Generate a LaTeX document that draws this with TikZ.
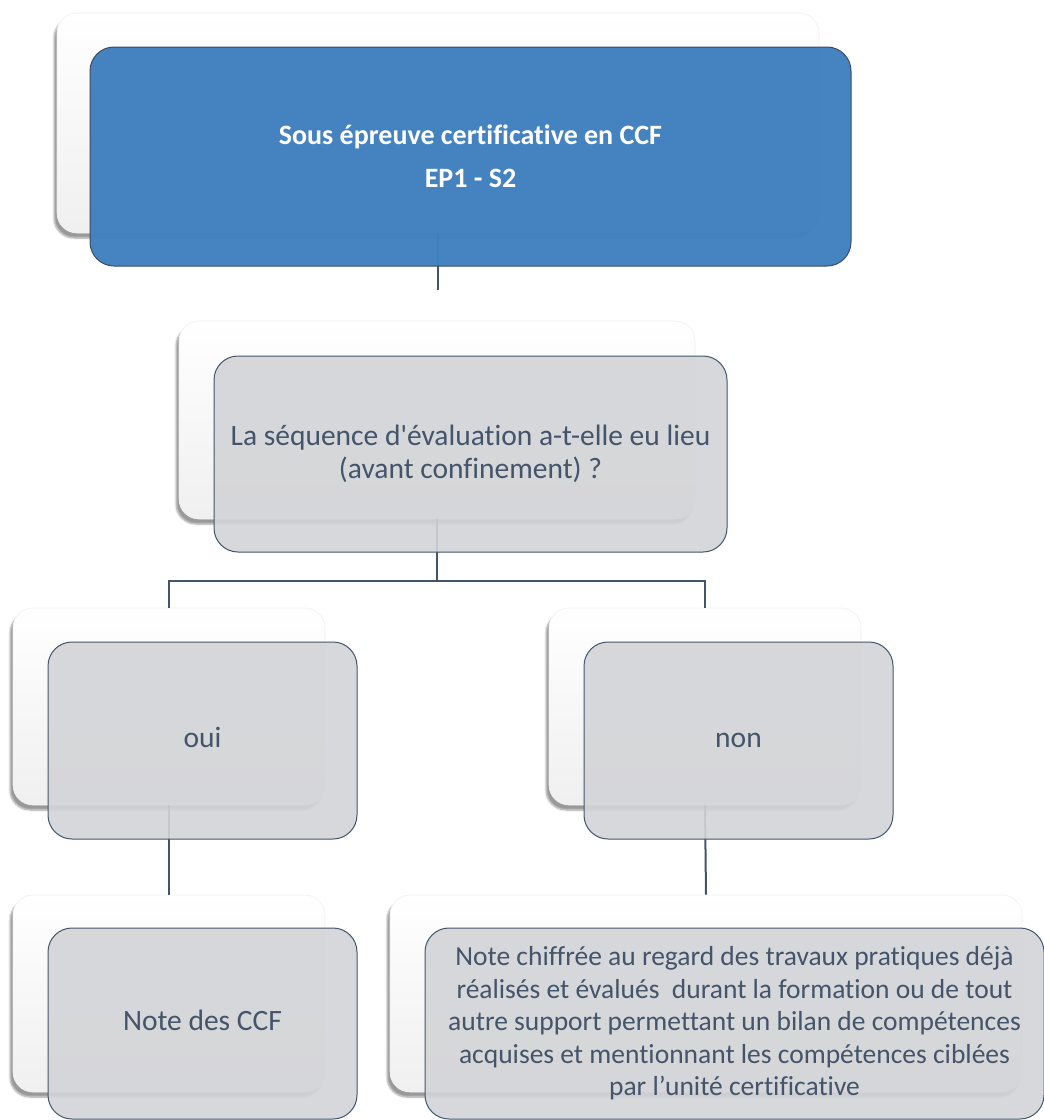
\documentclass[tikz,border=0pt]{standalone}
\usepackage{fontspec}
\newfontfamily\calibri{Carlito}[Ligatures=CommonOff]
\usetikzlibrary{shadows.blur}
\definecolor{slate}{HTML}{44546A}
\definecolor{topblue}{HTML}{3F80BF}
\definecolor{boxgray}{HTML}{D3D4D7}
\begin{document}
\begin{tikzpicture}[x=1pt,y=-1pt,
  backbox/.style={rectangle, rounded corners=20pt, draw=gray!12, line width=0.6pt,
    top color=white, bottom color=gray!12,
    blur shadow={shadow xshift=-3pt, shadow yshift=-5pt, shadow blur steps=6, shadow opacity=40},
    inner sep=0pt},
  frontbox/.style={rectangle, rounded corners=24pt, draw=slate, line width=1pt,
    fill=boxgray, fill opacity=0.9, text opacity=1, text=slate, align=center,
    inner sep=0pt, font=\calibri\fontsize{29.5}{32.5}\selectfont},
  smalltext/.style={font=\calibri\fontsize{27.5}{32.5}\selectfont},
  titlebox/.style={frontbox, fill=topblue, fill opacity=0.97, draw=slate!90!black,
    text=white, font=\calibri\bfseries\fontsize{28}{31}\selectfont},
  link/.style={draw=slate, line width=2pt}
]
\useasboundingbox (0,0) rectangle (1044,1120);

% white back panels
\node[backbox, minimum width=762, minimum height=220] (b0) at (438,123) {};
\node[backbox, minimum width=516, minimum height=198] (b1) at (437,420) {};
\node[backbox, minimum width=312, minimum height=197] (b2l) at (169,706.5) {};
\node[backbox, minimum width=312, minimum height=197] (b2r) at (705,706.5) {};
\node[backbox, minimum width=312, minimum height=197] (b3l) at (169,993.5) {};
\node[backbox, minimum width=632, minimum height=197] (b3r) at (706,993.5) {};

% connectors
\coordinate (stub) at (b0.south |- 0,290);
\draw[link] (b0.south) -- (stub);
\coordinate (fork) at (b1.south |- 0,581);
\draw[link] (b1.south) -- (fork);
\draw[link] (b2l.north) -- (b2l.north |- fork) -- (b2r.north |- fork) -- (b2r.north);
\draw[link] (b2l.south) -- (b3l.north);
\draw[link] (b2r.south) -- (b3r.north);

% text panels
\node[titlebox, minimum width=761, minimum height=219] (t0) at (470.5,156.5)
  {Sous épreuve certificative en CCF\\[12pt]EP1 - S2};
\node[frontbox, minimum width=513, minimum height=196] (t1) at (470.5,454)
  {La séquence d'évaluation a-t-elle eu lieu\\(avant confinement) ?};
\node[frontbox, minimum width=309, minimum height=197] (t2l) at (202.5,740.5) {\strut oui};
\node[frontbox, minimum width=309, minimum height=197] (t2r) at (738.5,740.5) {\strut non};
\node[frontbox, minimum width=309, minimum height=191] (t3l) at (202.5,1023.5) {\strut Note des CCF};
\node[frontbox, smalltext, minimum width=619, minimum height=191] (t3r) at (734.5,1023.5)
  {Note chiffrée au regard des travaux pratiques déjà\\
   réalisés et évalués\ \ durant la formation ou de tout\\
   autre support permettant un bilan de compétences\\
   acquises et mentionnant les compétences ciblées\\
   par l’unité certificative};
\end{tikzpicture}
\end{document}
